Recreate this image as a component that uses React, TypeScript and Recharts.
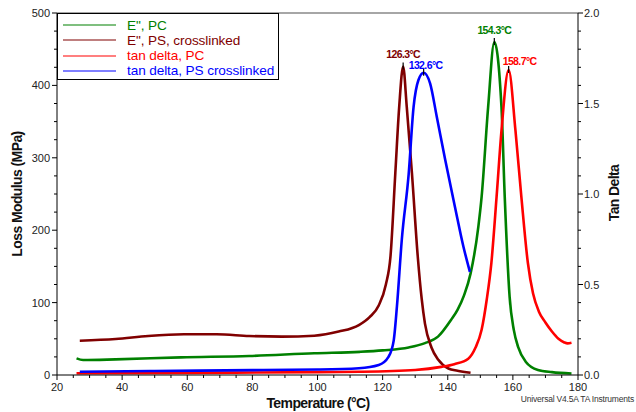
import React from "react"
import { ComposedChart, Line, XAxis, YAxis, ReferenceLine, ReferenceDot } from "recharts"

// [temperature °C, value] pairs, one array per trace
const pcLossModulus: [number, number][] = [
  [26, 23], [28, 20.7], [38, 21.6], [58, 24.4], [79, 26.2], [99, 30], [113, 32],
  [120, 34], [128, 38], [133, 44], [137, 53], [141, 76], [143, 90], [145, 110],
  [147, 140], [149.4, 205], [150.4, 246], [152.4, 370], [154.3, 460], [156.5, 370],
  [157.5, 246], [159, 108], [160.3, 62], [161.6, 39], [164, 18], [167.7, 7], [172, 4], [178, 2],
]

const psLossModulus: [number, number][] = [
  [27, 47.4], [38, 49.7], [48, 53.9], [59, 56.2], [69, 56.2], [79, 53.9], [89, 53],
  [99, 54.3], [106.5, 60], [112.7, 69], [116, 80], [118.8, 96], [121, 125], [122.4, 163],
  [123.9, 279], [125.1, 371], [126.3, 426], [127.4, 371], [129, 279], [130.8, 163],
  [132, 105], [133, 71], [135, 38], [137.1, 21], [140.2, 9], [143, 6], [147, 3],
]

const pcTanDelta: [number, number][] = [
  [26, 0.01], [60, 0.012], [100, 0.016], [112.7, 0.018], [130, 0.028], [138, 0.045],
  [142, 0.06], [146.3, 0.09], [148.5, 0.15], [150.4, 0.25], [152, 0.42], [153.4, 0.62],
  [155, 0.985], [156.5, 1.35], [158.7, 1.685], [160.8, 1.35], [162.6, 0.985],
  [164.6, 0.62], [166.2, 0.45], [168, 0.35], [170, 0.29], [172, 0.24], [174, 0.2],
  [175.8, 0.18], [176.8, 0.175], [178, 0.178],
]

const psTanDelta: [number, number][] = [
  [27, 0.018], [50, 0.022], [80, 0.027], [100, 0.03], [112.7, 0.037], [118.8, 0.055],
  [121.8, 0.1], [123.4, 0.19], [124.4, 0.38], [125.9, 0.75], [128, 1.11], [129.5, 1.48],
  [131, 1.63], [132.6, 1.67], [134.6, 1.61], [136.6, 1.43], [139.2, 1.19], [142.2, 0.93],
  [144.8, 0.71], [146.8, 0.57],
]

// labelled peak temperatures
const peakTemps = { pcLoss: 154.3, psLoss: 126.3, pcTan: 158.7, psTan: 132.6 }

const tempTicks = Array.from({ length: 33 }, (_, i) => 20 + i * 5)
const modulusTicks = Array.from({ length: 21 }, (_, i) => i * 25)
const tanTicks = Array.from({ length: 21 }, (_, i) => i / 10)

const FONT = '"Liberation Sans", Arial, sans-serif'

const toRows = (pts: [number, number][]) => pts.map(([t, v]) => ({ t, v }))
const valueAt = (pts: [number, number][], t: number) => pts.find((p) => p[0] === t)![1]

const series = [
  { key: "pcLoss", name: 'E", PC', color: "#008000", axis: "mpa", pts: pcLossModulus, dx: 0, dy: -8, anchor: "middle" },
  { key: "psLoss", name: 'E", PS, crosslinked', color: "#800000", axis: "mpa", pts: psLossModulus, dx: 0, dy: -9, anchor: "middle" },
  { key: "pcTan", name: "tan delta, PC", color: "#ff0000", axis: "tan", pts: pcTanDelta, dx: -6, dy: -5, anchor: "start" },
  { key: "psTan", name: "tan delta, PS crosslinked", color: "#0000ff", axis: "tan", pts: psTanDelta, dx: -15, dy: -4, anchor: "start" },
] as const

const XTick = (props: any) => {
  const { x, y, payload } = props
  const major = payload.value % 20 === 0
  return (
    <g>
      <line x1={x} x2={x} y1={y} y2={y + (major ? 5 : 3)} stroke="#000" />
      {major && (
        <text x={x} y={y + 16} textAnchor="middle" fontSize={11} fontFamily={FONT} fill="#222">
          {payload.value}
        </text>
      )}
    </g>
  )
}

const LeftTick = (props: any) => {
  const { x, y, payload } = props
  const major = payload.value % 100 === 0
  return (
    <g>
      <line x1={x} x2={x - (major ? 5 : 3)} y1={y} y2={y} stroke="#000" />
      {major && (
        <text x={x - 7} y={y + 4} textAnchor="end" fontSize={11} fontFamily={FONT} fill="#222">
          {payload.value}
        </text>
      )}
    </g>
  )
}

const RightTick = (props: any) => {
  const { x, y, payload } = props
  const major = Math.round(payload.value * 10) % 5 === 0
  return (
    <g>
      <line x1={x} x2={x + (major ? 5 : 3)} y1={y} y2={y} stroke="#000" />
      {major && (
        <text x={x + 6} y={y + 4} textAnchor="start" fontSize={11} fontFamily={FONT} fill="#222">
          {payload.value.toFixed(1)}
        </text>
      )}
    </g>
  )
}

const PeakMark = (color: string, text: string, dx: number, dy: number, anchor: string) => (props: any) => {
  const { cx, cy } = props
  return (
    <g>
      <line x1={cx} x2={cx} y1={cy - 4} y2={cy + 3} stroke="#000" strokeWidth={1.2} />
      <text
        x={cx + dx}
        y={cy + dy}
        textAnchor={anchor as any}
        fontSize={10.5}
        fontWeight="bold"
        letterSpacing={-0.6}
        fontFamily={FONT}
        fill={color}
      >
        {text}
      </text>
    </g>
  )
}

export default function App() {
  return (
    <div style={{ position: "relative", width: 636, height: 412, background: "#fff" }}>
      <style>{"body{margin:0}"}</style>
      <ComposedChart width={636} height={412} margin={{ top: 13, right: 0, bottom: 0, left: 0 }}>
        <XAxis
          dataKey="t"
          type="number"
          domain={[20, 180]}
          ticks={tempTicks}
          interval={0}
          tickSize={0}
          tickMargin={0}
          tick={XTick}
          height={37}
          stroke="#000"
          allowDataOverflow
          label={{
            content: () => (
              <g fontFamily={FONT}>
                <text x={318} y={408} textAnchor="middle" fontSize={14} fontWeight="bold" letterSpacing={-0.6} fill="#111">
                  Temperature (°C)
                </text>
                <text x={634} y={402} textAnchor="end" fontSize={8.5} letterSpacing={-0.2} fill="#333">
                  Universal V4.5A TA Instruments
                </text>
              </g>
            ),
          }}
        />
        <YAxis
          yAxisId="mpa"
          orientation="left"
          domain={[0, 500]}
          ticks={modulusTicks}
          interval={0}
          tickSize={0}
          tickMargin={0}
          tick={LeftTick}
          width={57}
          stroke="#000"
          allowDataOverflow
          label={{
            content: () => (
              <text
                x={0}
                y={0}
                transform="translate(22,194) rotate(-90)"
                textAnchor="middle"
                fontSize={14}
                fontWeight="bold"
                letterSpacing={-0.6}
                fontFamily={FONT}
                fill="#111"
              >
                Loss Modulus (MPa)
              </text>
            ),
          }}
        />
        <YAxis
          yAxisId="tan"
          orientation="right"
          domain={[0, 2]}
          ticks={tanTicks}
          interval={0}
          tickSize={0}
          tickMargin={0}
          tick={RightTick}
          width={58}
          stroke="#000"
          allowDataOverflow
          label={{
            content: () => (
              <text
                x={0}
                y={0}
                transform="translate(619,193) rotate(-90)"
                textAnchor="middle"
                fontSize={14}
                fontWeight="bold"
                letterSpacing={-0.6}
                fontFamily={FONT}
                fill="#111"
              >
                Tan Delta
              </text>
            ),
          }}
        />
        <ReferenceLine yAxisId="mpa" y={500} stroke="#888" strokeWidth={1.5} />
        {series.map((s) => (
          <Line
            key={s.key}
            yAxisId={s.axis}
            data={toRows(s.pts as [number, number][])}
            dataKey="v"
            type="monotone"
            stroke={s.color}
            strokeWidth={2.6}
            dot={false}
            activeDot={false}
            isAnimationActive={false}
          />
        ))}
        {series.map((s) => {
          const t = peakTemps[s.key]
          return (
            <ReferenceDot
              key={s.key + "-peak"}
              yAxisId={s.axis}
              x={t}
              y={valueAt(s.pts as [number, number][], t)}
              r={0}
              ifOverflow="visible"
              shape={PeakMark(s.color, `${t}°C`, s.dx, s.dy, s.anchor)}
            />
          )
        })}
      </ComposedChart>
      <div
        style={{
          position: "absolute",
          left: 57,
          top: 13,
          width: 222,
          height: 67,
          border: "1px solid #000",
          background: "#fff",
          fontFamily: FONT,
          fontSize: 13.6,
          boxSizing: "border-box",
        }}
      >
        {series.map((s, i) => (
          <div
            key={s.key}
            style={{ position: "absolute", left: 5, top: 3.5 + i * 15.3, height: 15, display: "flex", alignItems: "center" }}
          >
            <svg width={53} height={4} style={{ marginRight: 11 }}>
              <line x1={0} x2={53} y1={2} y2={2} stroke={s.color} strokeWidth={1.2} />
            </svg>
            <span style={{ color: s.color, whiteSpace: "nowrap", letterSpacing: -0.1 }}>{s.name}</span>
          </div>
        ))}
      </div>
    </div>
  )
}
